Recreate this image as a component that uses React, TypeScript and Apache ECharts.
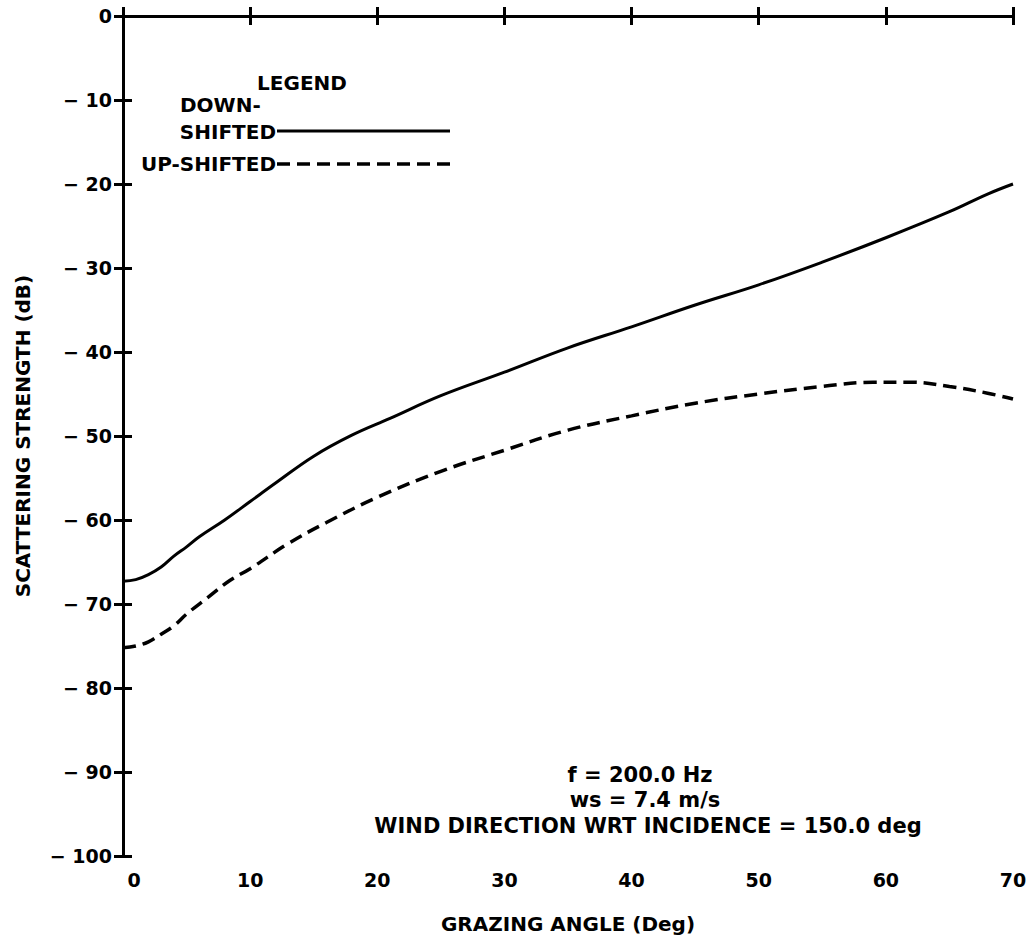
import React, { useEffect, useRef } from "react";
import * as echarts from "echarts";

const downX = [0, 1, 2, 3, 4, 5, 6, 8, 10, 12, 15, 18, 21, 25, 30, 35, 40, 45, 50, 55, 60, 65, 68, 70];
const downY = [-67.3, -67.1, -66.5, -65.6, -64.3, -63.2, -62, -60, -57.8, -55.6, -52.4, -49.9, -47.9, -45.2, -42.4, -39.5, -37, -34.4, -32, -29.3, -26.4, -23.3, -21.2, -20];

const upX = [0, 1, 2, 3, 4, 5, 6.6, 8.4, 10, 13, 16, 20, 25, 30, 35, 40, 45, 50, 55, 59, 62, 65, 68, 70];
const upY = [-75.2, -75, -74.5, -73.6, -72.6, -71.2, -69.3, -67.2, -65.8, -62.8, -60.3, -57.3, -54.2, -51.7, -49.3, -47.6, -46.1, -45, -44.1, -43.6, -43.6, -44.1, -44.9, -45.6];

const annotations = ["f = 200.0 Hz", "ws = 7.4 m/s", "WIND DIRECTION WRT INCIDENCE = 150.0 deg"];

const FONT = "DejaVu Sans";

export default function App() {
  const ref = useRef<HTMLDivElement>(null);
  useEffect(() => {
    if (!ref.current) return;
    const chart = echarts.init(ref.current, null, { renderer: "svg" });
    const axisLine = { show: true, lineStyle: { color: "#000", width: 3 } };
    const tickStyle = { show: true, inside: true, length: 9, lineStyle: { color: "#000", width: 3 } };
    const labelStyle = { color: "#000", fontFamily: FONT, fontSize: 19, fontWeight: "bold" as const };
    const nameStyle = { color: "#000", fontFamily: FONT, fontSize: 20, fontWeight: "bold" as const };
    const txt = (x: number, y: number, text: string, align = "left", size = 20) => ({
      type: "text",
      x,
      y,
      style: { text, fill: "#000", font: `bold ${size}px '${FONT}'`, textAlign: align, textVerticalAlign: "middle" },
    });
    chart.setOption({
      animation: false,
      backgroundColor: "#fff",
      grid: { left: 123, right: 17, top: 16, bottom: 85, containLabel: false },
      xAxis: [
        {
          type: "value",
          min: 0,
          max: 70,
          interval: 10,
          position: "bottom",
          name: "GRAZING ANGLE (Deg)",
          nameLocation: "middle",
          nameGap: 58,
          nameTextStyle: { ...nameStyle },
          axisLine,
          axisTick: tickStyle,
          axisLabel: {
            ...labelStyle,
            margin: 14,
            formatter: (v: number) => (v === 0 ? "{z|0}" : String(v)),
            rich: { z: { ...labelStyle, padding: [0, 0, 0, 22] } },
          },
          splitLine: { show: false },
        },
        {
          type: "value",
          min: 0,
          max: 70,
          interval: 10,
          position: "top",
          axisLine,
          axisTick: tickStyle,
          axisLabel: { show: false },
          splitLine: { show: false },
        },
      ],
      yAxis: [
        {
          type: "value",
          min: -100,
          max: 0,
          interval: 10,
          position: "left",
          name: "SCATTERING STRENGTH (dB)",
          nameLocation: "middle",
          nameGap: 90,
          nameRotate: 90,
          nameTextStyle: { ...nameStyle },
          axisLine,
          axisTick: tickStyle,
          axisLabel: {
            ...labelStyle,
            margin: 11,
            formatter: (v: number) => (v === 0 ? "0" : "\u2212 " + Math.abs(v)),
          },
          splitLine: { show: false },
        },
        {
          type: "value",
          min: -100,
          max: 0,
          interval: 10,
          position: "right",
          axisLine,
          axisTick: tickStyle,
          axisLabel: { show: false },
          splitLine: { show: false },
        },
      ],
      series: [
        {
          name: "DOWN-SHIFTED",
          type: "line",
          data: downX.map((x, i) => [x, downY[i]]),
          smooth: 0.4,
          showSymbol: false,
          lineStyle: { color: "#000", width: 3 },
        },
        {
          name: "UP-SHIFTED",
          type: "line",
          data: upX.map((x, i) => [x, upY[i]]),
          smooth: 0.4,
          showSymbol: false,
          lineStyle: { color: "#000", width: 3.5, type: [13, 7] },
        },
      ],
      graphic: [
        txt(302, 83, "LEGEND", "center"),
        txt(180, 105, "DOWN-"),
        txt(276, 132, "SHIFTED", "right"),
        {
          type: "line",
          shape: { x1: 277, y1: 131, x2: 450, y2: 131 },
          style: { stroke: "#000", lineWidth: 3 },
        },
        txt(276, 164, "UP-SHIFTED", "right"),
        {
          type: "line",
          shape: { x1: 277, y1: 164, x2: 450, y2: 164 },
          style: { stroke: "#000", lineWidth: 3.5, lineDash: [13, 7] },
        },
        txt(640, 775, annotations[0], "center", 21),
        txt(645, 800, annotations[1], "center", 21),
        txt(648, 826, annotations[2], "center", 21),
      ],
    });
    return () => chart.dispose();
  }, []);
  return <div ref={ref} style={{ position: "fixed", left: 0, top: 0, width: 1030, height: 941 }} />;
}
